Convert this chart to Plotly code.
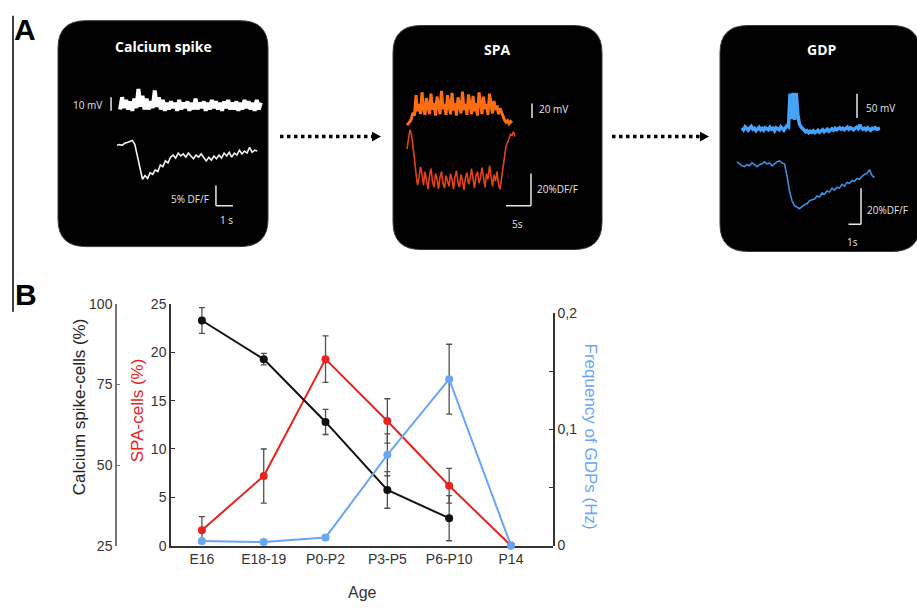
import numpy as np
import plotly.graph_objects as go

# ================= DATA =================
# Panel B
ages = ["E16", "E18-19", "P0-P2", "P3-P5", "P6-P10", "P14"]
calcium_pct = [94.9, 82.9, 63.4, 42.3, 33.5]
calcium_err = [4.0, 1.8, 3.9, 5.7, 7.0]
spa_pct = [1.6, 7.2, 19.3, 12.9, 6.2, 0.0]
spa_err = [1.4, 2.8, 2.4, 2.3, 1.8, 0.0]
gdp_hz = [0.004, 0.003, 0.007, 0.078, 0.143, 0.0]
gdp_err = [0.002, 0.002, 0.002, 0.018, 0.030, 0.0]

spa_ticks = [0, 5, 10, 15, 20, 25]
calcium_ticks = [25, 50, 75, 100]
gdp_ticks = [0, 0.05, 0.1, 0.15, 0.2]
gdp_ticktext = ["0", "", "0,1", "", "0,2"]

# Panel A example recordings (membrane potential in mV, fluorescence in %DF/F)
vm1_dt, vm1_t0 = 0.12, 0.18
vm1_mv = [-3, 6, -2, 4, -3, 3, -4, 5, -2, 12,
          -1, 7, -3, 5, -3, 3, -2, 11, -1, 6,
          -3, 4, -4, 2, -3, 3, -2, 2, -4, 4,
          -3, 2, -2, 3, -4, 2, -3, 5, -3, 2,
          -2, 3, -4, 2, -3, 4, -2, 3, -3, 2,
          -4, 3, -2, 4, -3, 2, -3, 3, -4, 2,
          -3, 4, -2, 3, -3, 2, -4, 4, -3, 2]
df1_dt = 0.15
df1_pct = [0, 0.2, 0, 0.5, 0.7, 1.0, 1.2, 0.2, -2.6, -5.7,
           -8.3, -7.4, -8.1, -6.7, -7.1, -6.0, -6.4, -4.8, -5.2, -3.8,
           -4.3, -2.9, -2.4, -3.1, -1.9, -2.6, -2.1, -2.9, -1.9, -2.6,
           -3.3, -2.4, -2.9, -2.1, -3.1, -3.8, -2.9, -3.6, -2.6, -3.3,
           -2.4, -3.1, -1.9, -2.6, -1.7, -2.9, -1.9, -2.4, -1.2, -2.1,
           -1.4, -1.9, -0.5, -1.7, -1.2, -1.4]

vm2_dt = 0.3
vm2_mv = [-3, -1, 2, 6, 14,
          10, 38, 16, 26, 12, 42, 20, 11, 34, 24,
          12, 40, 18, 27, 10, 36, 22, 12, 44, 19,
          26, 11, 38, 23, 12, 41, 17, 27, 10, 35,
          21, 13, 43, 18, 26, 11, 39, 24, 12, 37,
          16, 27, 10, 42, 22, 12, 36, 19, 26, 11,
          40, 23, 13, 30, 18, 24, 12, 20, 14,
          8, 4, 1, 3, -1, 2, 0]
df2_dt = 0.3
df2_pct = [-12.1, -6.1, 0, -3.0, -9.1, -18.2, -27.3, -34.5, -30.3, -23.0,
           -27.3, -34.5, -26.1, -32.1, -37.0, -28.5, -24.2, -32.1, -35.8, -27.3,
           -30.3, -37.0, -29.7, -26.1, -33.3, -36.4, -28.5, -32.1, -35.2, -27.3,
           -30.9, -37.0, -29.1, -25.5, -32.7, -35.8, -27.9, -31.5, -37.6, -29.7,
           -26.7, -33.9, -30.9, -24.2, -32.1, -36.4, -28.5, -26.1, -33.3, -29.7,
           -23.6, -31.5, -35.8, -27.3, -30.9, -22.4, -30.3, -35.2, -27.9, -32.1,
           -26.1, -33.9, -37.0, -30.3, -21.2, -15.2, -10.3, -7.9, -4.8, -3.0,
           -3.6, -1.2, -4.2]

vm3_dt, vm3_t0 = 0.124, 0.4
vm3_mv = [2, -2, 4, 0, -3, 2, 5, -1, 1, -4, 0, 3, -2, 1, -3, 2, 0, -2, 3, -1,
          1, -4, 2, 0, -2, 4, 1, -3, 2, 6, 4,
          72, 20, 74, 18, 73, 30,
          10, 4, 0, -3, -6, -4, -8, -5, -7, -4,
          -8, -6, -3, -7, -5, -2, -6, -4, -1, -5,
          -2, 0, -3, 1, -2, 0, 2, -1, 1, -2,
          0, 3, -1, 2, 0, -2, 1, 3, 0, 8,
          2, -1, 1, -2, 2, 0, -3, 1, 0, 2,
          -1, 0, 1]
df3_dt = 0.2
df3_pct = [1.1, 0, -1.1, -1.6, -0.5, -1.1, 0.5, -0.5, -1.6, -0.5,
           0, 1.1, 0, 0.5, -1.1, 0, 1.1, 1.6, 0.5, 0,
           -6.5, -15.1, -20.5, -23.2, -24.3, -24.9, -23.8, -22.7, -22.2, -20.5,
           -20.0, -19.5, -17.8, -18.4, -16.2, -16.8, -15.1, -15.7, -13.5, -14.6,
           -13.0, -13.5, -11.4, -12.4, -10.3, -10.8, -9.2, -9.7, -8.1, -8.6,
           -7.0, -5.9, -5.4, -3.2, -6.5, -7.6]

# ================= LAYOUT HELPERS =================
W, H = 917, 613


def px(x):
    return x / W


def py(y):
    return 1 - y / H


def xrange_px(left, right, origin, k):
    return [(left - origin) / k, (right - origin) / k]


def yrange_px(top, bottom, origin, k):
    return [(origin - bottom) / k, (origin - top) / k]


def rrect(x0, y0, x1, y1, r):
    pts = [
        f"M{px(x0 + r)},{py(y0)}", f"L{px(x1 - r)},{py(y0)}",
        f"Q{px(x1)},{py(y0)} {px(x1)},{py(y0 + r)}",
        f"L{px(x1)},{py(y1 - r)}",
        f"Q{px(x1)},{py(y1)} {px(x1 - r)},{py(y1)}",
        f"L{px(x0 + r)},{py(y1)}",
        f"Q{px(x0)},{py(y1)} {px(x0)},{py(y1 - r)}",
        f"L{px(x0)},{py(y0 + r)}",
        f"Q{px(x0)},{py(y0)} {px(x0 + r)},{py(y0)}", "Z"]
    return " ".join(pts)


FONT = "Arial, Liberation Sans, sans-serif"
BOXFONT = "Open Sans, DejaVu Sans, sans-serif"
RED = "#e8231d"
BLUE = "#6aa6f8"
ERR = "#505050"

fig = go.Figure()


def times(n, dt, t0=0.0):
    return t0 + np.arange(n) * dt


# ================= PANEL A traces =================
fig.add_trace(go.Scatter(x=times(len(vm1_mv), vm1_dt, vm1_t0), y=vm1_mv, xaxis="x2", yaxis="y4",
                         mode="lines", line=dict(color="white", width=4), hoverinfo="skip"))
fig.add_trace(go.Scatter(x=times(len(df1_pct), df1_dt), y=df1_pct, xaxis="x2", yaxis="y5",
                         mode="lines", line=dict(color="#f2f2f2", width=1.6), hoverinfo="skip"))
fig.add_trace(go.Scatter(x=times(len(vm2_mv), vm2_dt), y=vm2_mv, xaxis="x3", yaxis="y6",
                         mode="lines", line=dict(color="#ff6d12", width=3), hoverinfo="skip"))
fig.add_trace(go.Scatter(x=times(len(df2_pct), df2_dt), y=df2_pct, xaxis="x3", yaxis="y7",
                         mode="lines", line=dict(color="#e5421c", width=1.6), hoverinfo="skip"))
fig.add_trace(go.Scatter(x=times(len(vm3_mv), vm3_dt, vm3_t0), y=vm3_mv, xaxis="x4", yaxis="y8",
                         mode="lines", line=dict(color="#46a2fa", width=3.5), hoverinfo="skip"))
fig.add_trace(go.Scatter(x=times(len(df3_pct), df3_dt), y=df3_pct, xaxis="x4", yaxis="y9",
                         mode="lines", line=dict(color="#3b8fe0", width=1.6), hoverinfo="skip"))

# ================= PANEL B traces =================
fig.add_trace(go.Scatter(x=ages, y=gdp_hz, xaxis="x", yaxis="y2", mode="lines+markers",
                         line=dict(color=BLUE, width=2), marker=dict(color=BLUE, size=8),
                         error_y=dict(type="data", array=gdp_err, color=ERR, thickness=1.3, width=3),
                         cliponaxis=False, name="GDP"))
fig.add_trace(go.Scatter(x=ages, y=spa_pct, xaxis="x", yaxis="y", mode="lines+markers",
                         line=dict(color=RED, width=2), marker=dict(color=RED, size=8),
                         error_y=dict(type="data", array=spa_err, color=ERR, thickness=1.3, width=3),
                         cliponaxis=False, name="SPA"))
fig.add_trace(go.Scatter(x=ages[:len(calcium_pct)], y=calcium_pct, xaxis="x", yaxis="y3",
                         mode="lines+markers",
                         line=dict(color="#111111", width=2), marker=dict(color="#111111", size=8),
                         error_y=dict(type="data", array=calcium_err, color=ERR, thickness=1.3, width=3),
                         cliponaxis=False, name="Calcium spike"))

tickfont = dict(family=FONT, size=14, color="#333333")
hidden = dict(visible=False, showgrid=False, zeroline=False, fixedrange=True)

layout = dict(
    width=W, height=H, autosize=False,
    margin=dict(l=0, r=0, t=0, b=0),
    paper_bgcolor="white", plot_bgcolor="rgba(0,0,0,0)",
    showlegend=False,
    font=dict(family=FONT, color="#333333"),
    # Panel B axes
    xaxis=dict(domain=[px(171), px(553)], range=[-0.5, 5.68], anchor="y", type="category",
               showline=True, linecolor="#333333", linewidth=1.5, ticks="", showgrid=False,
               zeroline=False, tickfont=tickfont),
    yaxis=dict(domain=[py(552), py(304)], range=[0, 25], anchor="x", tickvals=spa_ticks,
               showline=True, linecolor="#333333", linewidth=1.5, ticks="inside", ticklen=4,
               tickcolor="#333333", showgrid=False, zeroline=False, tickfont=tickfont),
    yaxis2=dict(domain=[py(552), py(313)], range=[0, 0.2], anchor="x", side="right",
                tickvals=gdp_ticks, ticktext=gdp_ticktext,
                showline=True, linecolor="#333333", linewidth=1.5, ticks="inside", ticklen=4,
                tickcolor="#333333", showgrid=False, zeroline=False, tickfont=tickfont),
    yaxis3=dict(overlaying="y", anchor="free", position=px(116), range=[25, 100],
                tickvals=calcium_ticks, showline=True, linecolor="#777777", linewidth=1.5,
                ticks="inside", ticklen=3, tickcolor="#777777", showgrid=False, zeroline=False,
                tickfont=tickfont),
    # Panel A axes (box 1, 2, 3)
    xaxis2=dict(domain=[px(60), px(268)], range=xrange_px(60, 268, 117, 17), anchor="y4", **hidden),
    yaxis4=dict(domain=[py(245), py(15)], range=yrange_px(15, 245, 100, 1.4), anchor="x2", **hidden),
    yaxis5=dict(overlaying="y4", range=yrange_px(15, 245, 141, 4.2), anchor="x2", **hidden),
    xaxis3=dict(domain=[px(394), px(601)], range=xrange_px(394, 601, 407, 5), anchor="y6", **hidden),
    yaxis6=dict(domain=[py(247), py(19)], range=yrange_px(19, 247, 118, 0.75), anchor="x3", **hidden),
    yaxis7=dict(overlaying="y6", range=yrange_px(19, 247, 125, 1.65), anchor="x3", **hidden),
    xaxis4=dict(domain=[px(721), px(916)], range=xrange_px(721, 916, 737, 12.5), anchor="y8", **hidden),
    yaxis8=dict(domain=[py(249), py(19)], range=yrange_px(19, 249, 124, 0.5), anchor="x4", **hidden),
    yaxis9=dict(overlaying="y8", range=yrange_px(19, 249, 160, 1.85), anchor="x4", **hidden),
)

shapes = []
# black rounded boxes
for (x0, y0, x1, y1) in [(58, 13, 268, 245), (393, 18, 602, 248), (720, 18, 920, 250)]:
    shapes.append(dict(type="path", xref="paper", yref="paper", path=rrect(x0, y0, x1, y1, 28),
                       fillcolor="black", line=dict(color="#3a3a3a", width=1), layer="below"))
# panel separator line
shapes.append(dict(type="line", xref="paper", yref="paper", x0=px(13), x1=px(13), y0=py(8), y1=py(312),
                   line=dict(color="black", width=1.5)))
# dotted arrows
for (xa, xb) in [(280, 372), (612, 700)]:
    shapes.append(dict(type="line", xref="paper", yref="paper", x0=px(xa), x1=px(xb), y0=py(132), y1=py(132),
                       line=dict(color="black", width=3.5, dash="dot")))
    shapes.append(dict(type="path", xref="paper", yref="paper",
                       path=f"M{px(xb)},{py(127)} L{px(xb + 9)},{py(132)} L{px(xb)},{py(137)} Z",
                       fillcolor="black", line=dict(width=0)))

SB = dict(color="#e8e8e8", width=1.5)
# scale bars box 1
shapes.append(dict(type="line", xref="x2", yref="y4", x0=-0.35, x1=-0.35, y0=-4, y1=6, line=SB))
shapes.append(dict(type="line", xref="x2", yref="y5", x0=5.82, x1=5.82, y0=-9.8, y1=-14.8, line=SB))
shapes.append(dict(type="line", xref="x2", yref="y5", x0=5.82, x1=6.82, y0=-14.8, y1=-14.8, line=SB))
# scale bars box 2
shapes.append(dict(type="line", xref="x3", yref="y6", x0=25, x1=25, y0=6.7, y1=26.7, line=SB))
shapes.append(dict(type="line", xref="x3", yref="y7", x0=24.8, x1=24.8, y0=-27.3, y1=-47.3, line=SB))
shapes.append(dict(type="line", xref="x3", yref="y7", x0=19.8, x1=24.8, y0=-47.3, y1=-47.3, line=SB))
# scale bars box 3
shapes.append(dict(type="line", xref="x4", yref="y8", x0=9.6, x1=9.6, y0=22, y1=72, line=SB))
shapes.append(dict(type="line", xref="x4", yref="y9", x0=9.92, x1=9.92, y0=-13.5, y1=-33.5, line=SB))
shapes.append(dict(type="line", xref="x4", yref="y9", x0=8.92, x1=9.92, y0=-33.5, y1=-33.5, line=SB))
layout["shapes"] = shapes


def ann(text, x, y, size=10, color="#e6e6e6", xanchor="center", family=BOXFONT, bold=False, angle=0):
    t = f"<b>{text}</b>" if bold else text
    return dict(text=t, x=px(x), y=py(y), xref="paper", yref="paper", showarrow=False,
                xanchor=xanchor, yanchor="middle", textangle=angle,
                font=dict(family=family, size=size, color=color))


annotations = [
    ann("Calcium spike", 163, 40, size=14, color="white", bold=True),
    ann("SPA", 497, 43, size=14, color="white", bold=True),
    ann("GDP", 822, 43, size=14, color="white", bold=True),
    ann("10 mV", 104, 100, xanchor="right"),
    ann("5% DF/F", 211, 196, xanchor="right"),
    ann("1 s", 226, 218),
    ann("20 mV", 537, 104, xanchor="left"),
    ann("20%DF/F", 535, 186, xanchor="left"),
    ann("5s", 517, 222),
    ann("50 mV", 864, 103, xanchor="left"),
    ann("20%DF/F", 865, 207, xanchor="left"),
    ann("1s", 852, 240),
    ann("A", 25, 22, size=30, color="black", family=FONT, bold=True),
    ann("B", 26, 294, size=30, color="black", family=FONT, bold=True),
    ann("Calcium spike-cells (%)", 79, 410, size=17, color="#222222", family=FONT, angle=-90),
    ann("SPA-cells (%)", 137, 413, size=17, color=RED, family=FONT, angle=-90),
    ann("Frequency of GDPs (Hz)", 590, 440, size=17, color=BLUE, family=FONT, angle=90),
    ann("Age", 362, 600, size=16, color="#333333", family=FONT),
]
layout["annotations"] = annotations

fig.update_layout(**layout)
fig.write_html("out.html")
